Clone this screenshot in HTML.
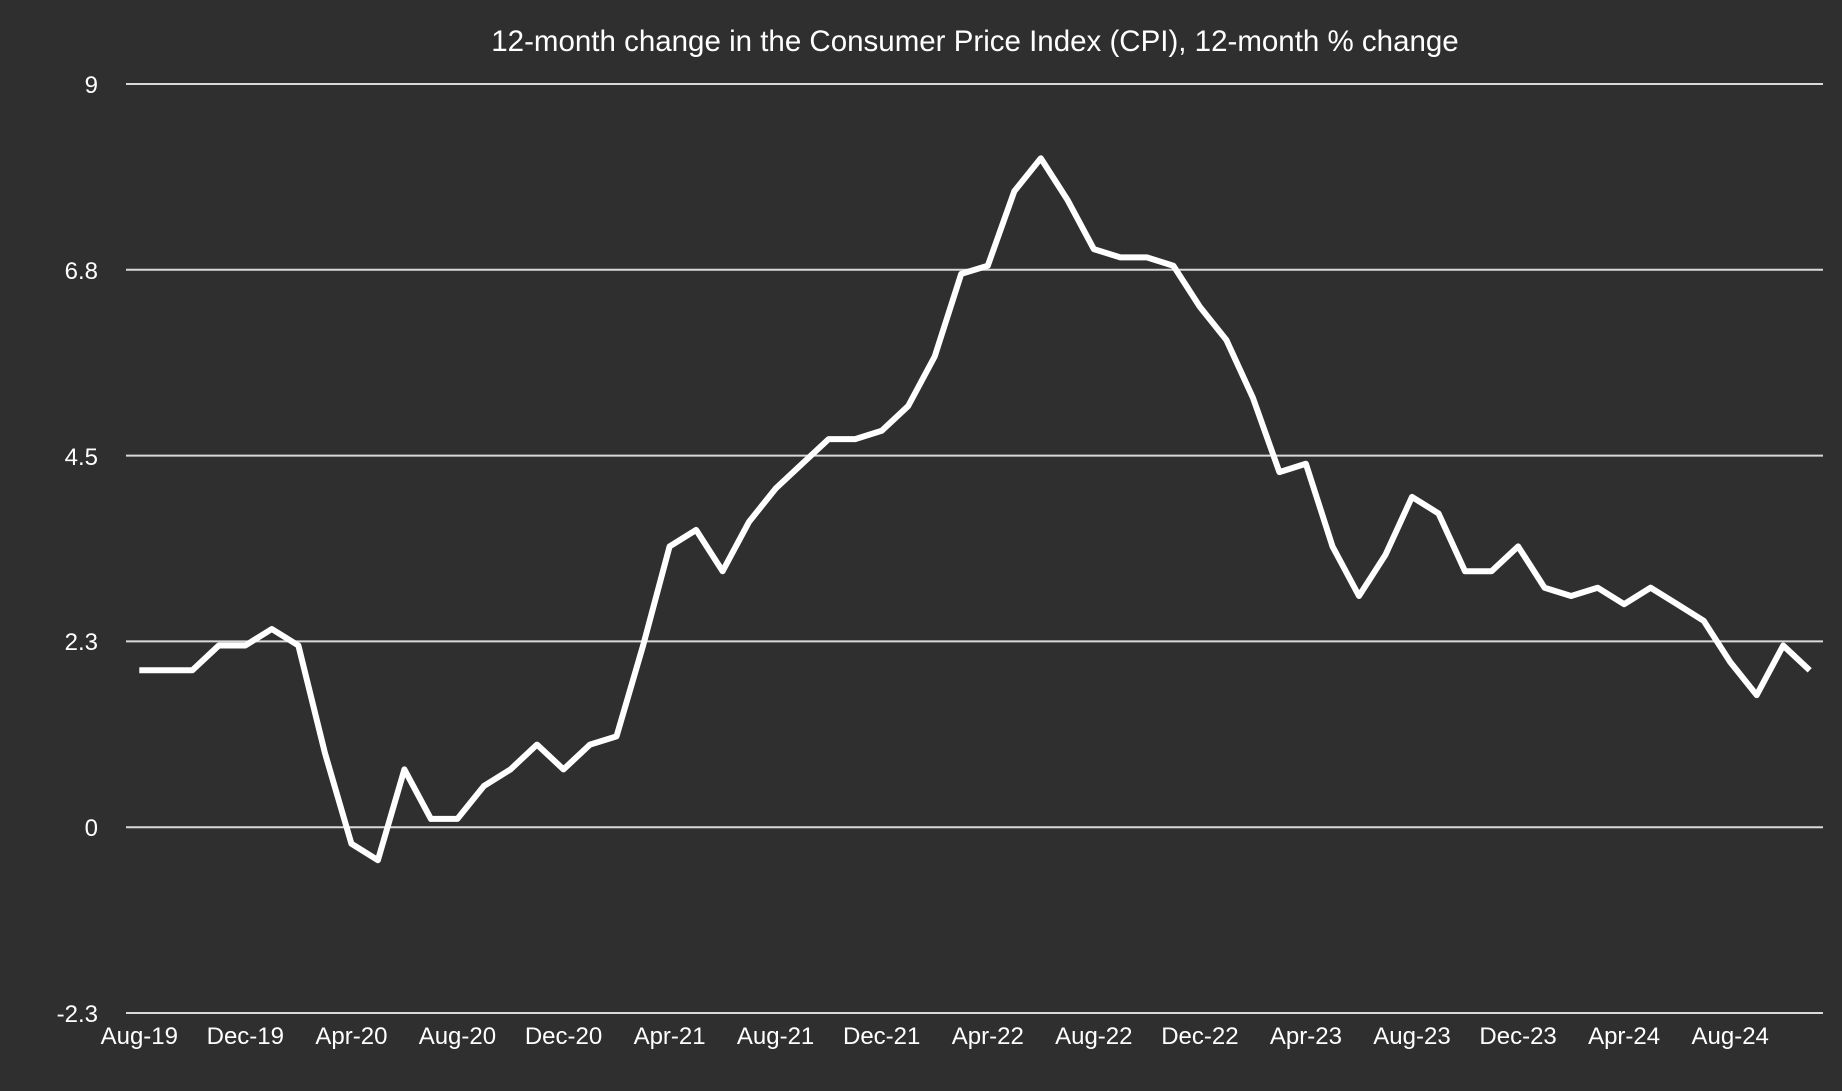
<!DOCTYPE html>
<html><head><style>body{margin:0;background:#2f2f2f}</style></head><body>
<svg width="1842" height="1086" xmlns="http://www.w3.org/2000/svg" font-family="Liberation Sans, sans-serif" fill="#fff">
<rect width="1842" height="1086" fill="#2f2f2f"/>
<text x="975" y="51" font-size="29.5" text-anchor="middle">12-month change in the Consumer Price Index (CPI), 12-month % change</text>
<g stroke="#d9d9d9" stroke-width="2">
<line x1="126" x2="1823" y1="84" y2="84"/><line x1="126" x2="1823" y1="269.8" y2="269.8"/>
<line x1="126" x2="1823" y1="455.6" y2="455.6"/><line x1="126" x2="1823" y1="641.4" y2="641.4"/>
<line x1="126" x2="1823" y1="827.2" y2="827.2"/><line x1="126" x2="1823" y1="1013" y2="1013"/>
</g>
<g font-size="24" text-anchor="end">
<text x="98" y="93">9</text><text x="98" y="279">6.8</text><text x="98" y="465">4.5</text>
<text x="98" y="650">2.3</text><text x="98" y="836">0</text><text x="98" y="1022">-2.3</text>
</g>
<g font-size="24" text-anchor="middle" id="xl"></g>
<polyline id="ln" fill="none" stroke="#fff" stroke-width="6" stroke-linejoin="round"/>
</svg>
<script>
var d=[1.9,1.9,1.9,2.2,2.2,2.4,2.2,0.9,-0.2,-0.4,0.7,0.1,0.1,0.5,0.7,1.0,0.7,1.0,1.1,2.2,3.4,3.6,3.1,3.7,4.1,4.4,4.7,4.7,4.8,5.1,5.7,6.7,6.8,7.7,8.1,7.6,7.0,6.9,6.9,6.8,6.3,5.9,5.2,4.3,4.4,3.4,2.8,3.3,4.0,3.8,3.1,3.1,3.4,2.9,2.8,2.9,2.7,2.9,2.7,2.5,2.0,1.6,2.2,1.9];
var s=1697/64,p=[];
d.forEach(function(v,i){p.push((126+s*(i+0.5)).toFixed(1)+","+(827.2-82.58*v).toFixed(1));});
document.getElementById('ln').setAttribute('points',p.join(' '));
var L=["Aug-19","Dec-19","Apr-20","Aug-20","Dec-20","Apr-21","Aug-21","Dec-21","Apr-22","Aug-22","Dec-22","Apr-23","Aug-23","Dec-23","Apr-24","Aug-24"],h="";
L.forEach(function(t,k){h+='<text x="'+(126+s*(4*k+0.5)).toFixed(1)+'" y="1044">'+t+'</text>';});
document.getElementById('xl').innerHTML=h;
</script>
</body></html>
